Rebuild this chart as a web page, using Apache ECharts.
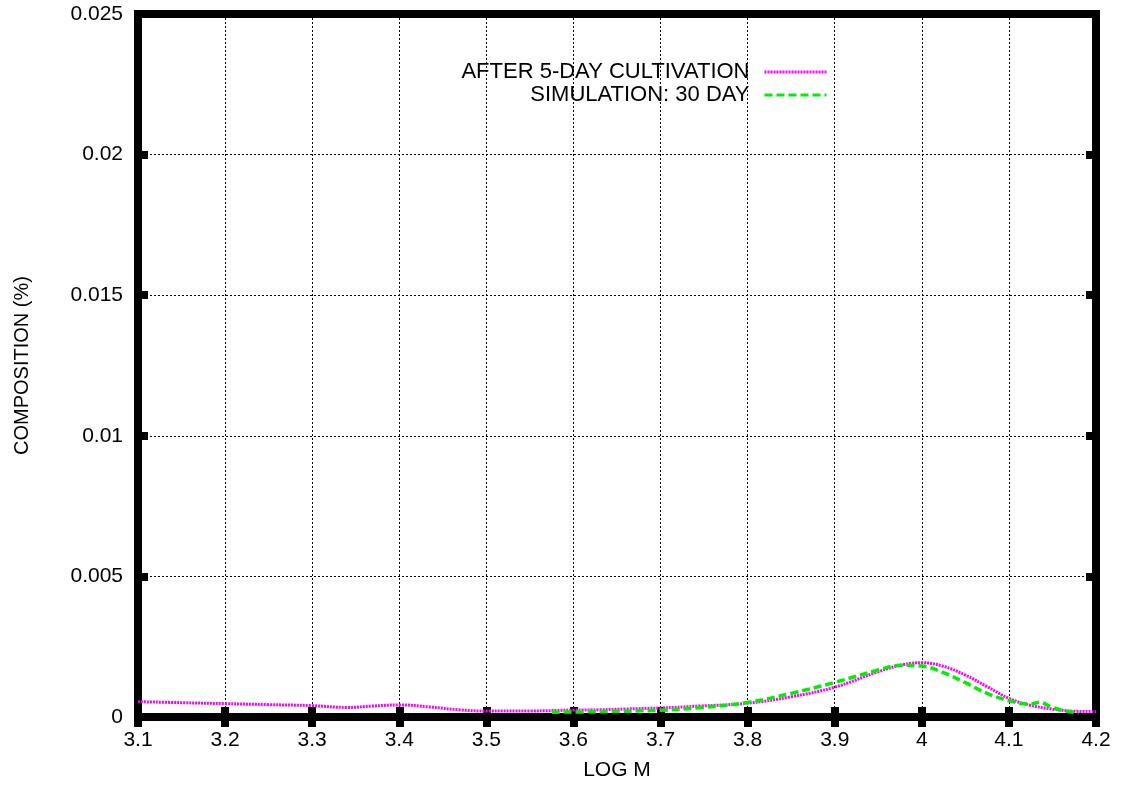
<!DOCTYPE html>
<html>
<head>
<meta charset="utf-8">
<script src="https://cdn.jsdelivr.net/npm/echarts@6/dist/echarts.min.js"></script>
<style>html,body{margin:0;padding:0;background:#fff;}#c{width:1122px;height:787px;}</style>
</head>
<body>
<div id="c"></div>
<script>
var xTicks = [3.1, 3.2, 3.3, 3.4, 3.5, 3.6, 3.7, 3.8, 3.9, 4.0, 4.1, 4.2];
var yTicks = [0, 0.005, 0.01, 0.015, 0.02, 0.025];
var seriesNames = ['AFTER 5-DAY CULTIVATION', 'SIMULATION: 30 DAY'];

var cultX = [3.10, 3.15, 3.20, 3.25, 3.30, 3.34, 3.37, 3.40, 3.435, 3.47, 3.50, 3.55, 3.60, 3.63, 3.66, 3.70, 3.745, 3.80, 3.85, 3.90, 3.95, 3.98, 4.00, 4.024, 4.05, 4.075, 4.10, 4.123, 4.15, 4.172, 4.20];
var cultY = [0.000545, 0.000510, 0.000474, 0.000440, 0.000403, 0.000340, 0.000390, 0.000430, 0.000356, 0.000250, 0.000213, 0.000215, 0.000245, 0.000255, 0.000285, 0.00032, 0.00039, 0.00049, 0.00072, 0.00106, 0.00161, 0.00187, 0.00193, 0.00181, 0.00149, 0.00108, 0.00066, 0.00043, 0.00028, 0.00021, 0.00019];

var simX = [3.575, 3.63, 3.70, 3.745, 3.80, 3.85, 3.90, 3.95, 3.975, 4.00, 4.024, 4.05, 4.075, 4.10, 4.123, 4.135, 4.15, 4.165, 4.18];
var simY = [0.00017, 0.00019, 0.00024, 0.00033, 0.00052, 0.00084, 0.00123, 0.00167, 0.00184, 0.00181, 0.00159, 0.00122, 0.00084, 0.00058, 0.00046, 0.00052, 0.00034, 0.00021, 0.00015];

function pairs(xs, ys) { return xs.map(function (x, i) { return [x, ys[i]]; }); }

var FONT = 'Liberation Sans, Arial, sans-serif';
var chart = echarts.init(document.getElementById('c'));

var tickStyle = { show: true, inside: true, length: 10, lineStyle: { color: '#000', width: 8 } };
var gridLine = { show: true, lineStyle: { color: '#000', width: 1, type: [2, 2] } };

function legendCfg(name, top) {
  return { data: [name], right: 294, top: top, orient: 'vertical', align: 'right', itemWidth: 62, itemHeight: 14, padding: 0,
    itemStyle: { opacity: 0 }, lineStyle: { width: 3 },
    textStyle: { fontFamily: FONT, fontSize: 22, color: '#000', padding: [0, 10, 0, 0] } };
}

var option = {
  animation: false,
  backgroundColor: '#fff',
  grid: { left: 138, right: 26, top: 14, bottom: 70, outerBoundsMode: 'none', containLabel: false,
    show: true, borderColor: '#000', borderWidth: 8, backgroundColor: 'transparent' },
  legend: [ legendCfg(seriesNames[0], 61), legendCfg(seriesNames[1], 84) ],
  xAxis: [
    { type: 'value', min: xTicks[0], max: xTicks[xTicks.length - 1], interval: 0.1, position: 'bottom',
      name: 'LOG M', nameLocation: 'middle', nameGap: 43,
      nameTextStyle: { fontFamily: FONT, fontSize: 21, color: '#000' },
      axisLine: { show: false }, axisTick: tickStyle, splitLine: gridLine,
      axisLabel: { fontFamily: FONT, fontSize: 21, color: '#000', margin: 13,
        formatter: function (v) { return String(+v.toFixed(1)); } } },
    { type: 'value', min: xTicks[0], max: xTicks[xTicks.length - 1], interval: 0.1, position: 'top',
      axisLine: { show: false }, axisTick: tickStyle, splitLine: { show: false }, axisLabel: { show: false } }
  ],
  yAxis: [
    { type: 'value', min: yTicks[0], max: yTicks[yTicks.length - 1], interval: 0.005, position: 'left',
      name: 'COMPOSITION (%)', nameLocation: 'middle', nameGap: 106,
      nameTextStyle: { fontFamily: FONT, fontSize: 20, color: '#000' },
      axisLine: { show: false }, axisTick: tickStyle, splitLine: gridLine,
      axisLabel: { fontFamily: FONT, fontSize: 21, color: '#000', margin: 15,
        formatter: function (v) { return String(+v.toFixed(3)); } } },
    { type: 'value', min: yTicks[0], max: yTicks[yTicks.length - 1], interval: 0.005, position: 'right',
      axisLine: { show: false }, axisTick: tickStyle, splitLine: { show: false }, axisLabel: { show: false } }
  ],
  series: [
    { name: seriesNames[0], type: 'line', xAxisIndex: 0, yAxisIndex: 0, smooth: 0.4, symbol: 'none',
      data: pairs(cultX, cultY), lineStyle: { color: '#ff00ff', width: 3, type: [2, 1] }, itemStyle: { color: '#ff00ff' }, z: 3 },
    { name: seriesNames[1], type: 'line', xAxisIndex: 0, yAxisIndex: 0, smooth: 0.4, symbol: 'none',
      data: pairs(simX, simY), lineStyle: { color: '#00ee00', width: 3.5, type: [8, 4] }, itemStyle: { color: '#00ee00' }, z: 4 }
  ]
};
chart.setOption(option);
</script>
</body>
</html>
